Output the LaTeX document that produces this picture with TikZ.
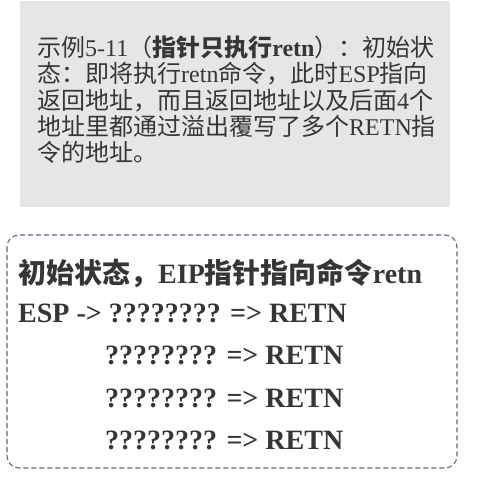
\documentclass[tikz,border=0pt]{standalone}
\usepackage{fontspec}
\setmainfont{Liberation Serif}
\newfontfamily\zhfont{Noto Sans CJK SC}
\newcommand\zh[1]{{\zhfont #1}}
\usetikzlibrary{positioning}
\definecolor{notegray}{HTML}{E6E6E6}
\definecolor{inkgray}{HTML}{363636}
\definecolor{dashblue}{HTML}{5C6B7E}

\begin{document}
\begin{tikzpicture}[x=1pt,y=-1pt]
  \tikzset{
    intro/.style={anchor=north west,align=left,text width=410pt,inner sep=0pt,text=inkgray,font=\fontsize{24}{26.2}\selectfont},
    memline/.style={anchor=base west,inner sep=0pt,text=inkgray,font=\fontsize{28}{30}\selectfont\bfseries},
    dashbox/.style={draw=dashblue,dash pattern=on 5pt off 3pt,line width=1.1pt,rounded corners=12pt}
  }
  \useasboundingbox (0,0) rectangle (477,478);
  \fill[notegray] (20,1) rectangle (450,207);
  \node[intro] (note) at (37,36) {\zh{示例}5-11\zh{（\textbf{指针只执行}}\textbf{retn}\zh{）：初始状}\\
    \zh{态：即将执行}retn\zh{命令，此时}ESP\zh{指向}\\
    \zh{返回地址，而且返回地址以及后面}4\zh{个}\\
    \zh{地址里都通过溢出覆写了多个}RETN\zh{指}\\
    \zh{令的地址。}};
  % stack after overflow
  \draw[dashbox] (7,235) rectangle (457,468);
  \node[memline] (state) at (18,283) {\zh{初始状态，}EIP\zh{指针指向命令}retn};
  \node[memline] (esp) at (18,322) {ESP -> ???????? => RETN};
  \foreach \y/\n in {364/a,407/b,449/c}
    \node[memline] (slot\n) at (105,\y) {???????? => RETN};
\end{tikzpicture}
\end{document}
